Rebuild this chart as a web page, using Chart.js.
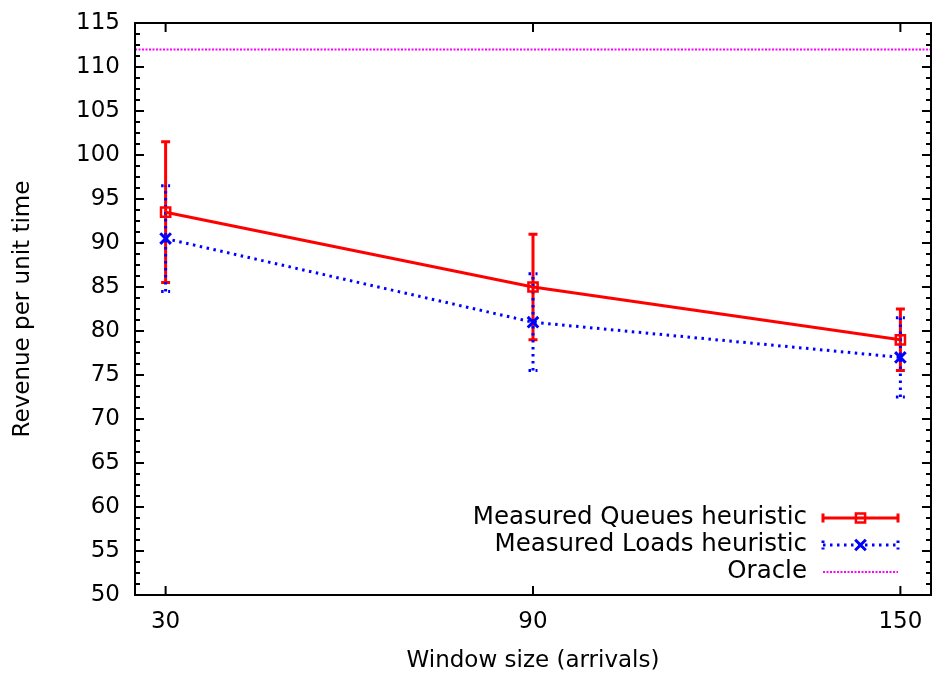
<!DOCTYPE html>
<html>
<head>
<meta charset="utf-8">
<script src="https://cdn.jsdelivr.net/npm/chart.js@4/dist/chart.umd.min.js"></script>
<style>
    html, body { margin: 0; padding: 0; background: #ffffff; }
    #RevenueChart { display: block; }
</style>
</head>
<body>
<canvas id="RevenueChart" width="933" height="678"></canvas>
<script>
// values
var WindowSizes = [30, 90, 150];
var XTickValues = [30, 90, 150];
var QueuesMean = [93.5, 85, 79];
var QueuesLow = [85.5, 79, 75.5];
var QueuesHigh = [101.5, 91, 82.5];
var LoadsMean = [90.5, 81, 77];
var LoadsLow = [84.5, 75.5, 72.5];
var LoadsHigh = [96.5, 86.5, 81.5];
var OracleValue = 112;
var XRange = [25, 155];
var YRange = [50, 115];
var YStep = 5;
var SeriesLabels = ['Measured Queues heuristic', 'Measured Loads heuristic', 'Oracle'];

var FontFamily = '"DejaVu Sans", Arial, sans-serif';

function Points(xs, ys) {
    return xs.map(function (x, i) { return { x: x, y: ys[i] }; });
}

function NoPadding(scale) {
    scale.paddingLeft = 0;
    scale.paddingRight = 0;
    scale.paddingTop = 0;
    scale.paddingBottom = 0;
}

// error bars with small caps, drawn under the lines and markers
var ErrorBarPlugin = {
    id: 'errorBars',
    beforeDatasetsDraw: function (chart) {
        var ctx = chart.ctx, xs = chart.scales.x, ys = chart.scales.y;
        chart.data.datasets.forEach(function (ds) {
            if (!ds.errLow) return;
            ctx.save();
            ctx.strokeStyle = ds.borderColor;
            ctx.lineWidth = ds.borderWidth;
            ctx.setLineDash(ds.borderDash || []);
            ds.data.forEach(function (p, i) {
                var px = xs.getPixelForValue(p.x);
                var lo = ys.getPixelForValue(ds.errLow[i]);
                var hi = ys.getPixelForValue(ds.errHigh[i]);
                ctx.beginPath();
                ctx.moveTo(px, lo); ctx.lineTo(px, hi);
                ctx.moveTo(px - 4.5, lo); ctx.lineTo(px + 4.5, lo);
                ctx.moveTo(px - 4.5, hi); ctx.lineTo(px + 4.5, hi);
                ctx.stroke();
            });
            ctx.restore();
        });
    }
};

// gnuplot style box with inward ticks on all four sides
var FramePlugin = {
    id: 'frame',
    afterDatasetsDraw: function (chart) {
        var ctx = chart.ctx, a = chart.chartArea, xs = chart.scales.x, ys = chart.scales.y;
        ctx.save();
        ctx.strokeStyle = '#000000';
        ctx.lineWidth = 2;
        ctx.setLineDash([]);
        ctx.strokeRect(a.left, a.top, a.right - a.left, a.bottom - a.top);
        ctx.beginPath();
        for (var v = YRange[0]; v <= YRange[1] + 0.001; v += YStep / 4) {
            var py = ys.getPixelForValue(v);
            var major = Math.abs(v / YStep - Math.round(v / YStep)) < 0.01;
            var len = major ? 9 : 5;
            ctx.moveTo(a.left, py); ctx.lineTo(a.left + len, py);
            ctx.moveTo(a.right, py); ctx.lineTo(a.right - len, py);
        }
        XTickValues.forEach(function (v) {
            var px = xs.getPixelForValue(v);
            ctx.moveTo(px, a.bottom); ctx.lineTo(px, a.bottom - 9);
            ctx.moveTo(px, a.top); ctx.lineTo(px, a.top + 9);
        });
        ctx.stroke();
        ctx.restore();
    }
};

// key in the lower right corner: text right aligned, sample to the right
var KeyPlugin = {
    id: 'gnuKey',
    afterDraw: function (chart) {
        var ctx = chart.ctx;
        var textRight = 807, lineLeft = 823, lineRight = 898, rowTop = 518, rowGap = 27;
        ctx.save();
        ctx.font = '24.5px ' + FontFamily;
        ctx.textAlign = 'right';
        ctx.textBaseline = 'middle';
        chart.data.datasets.forEach(function (ds, i) {
            var y = rowTop + i * rowGap;
            ctx.fillStyle = '#000000';
            ctx.fillText(ds.label, textRight, y);
            ctx.strokeStyle = ds.borderColor;
            ctx.lineWidth = ds.borderWidth;
            ctx.setLineDash(ds.borderDash || []);
            ctx.beginPath();
            ctx.moveTo(lineLeft, y); ctx.lineTo(lineRight, y);
            if (ds.errLow) {
                ctx.moveTo(lineLeft, y - 4.5); ctx.lineTo(lineLeft, y + 4.5);
                ctx.moveTo(lineRight, y - 4.5); ctx.lineTo(lineRight, y + 4.5);
            }
            ctx.stroke();
            if (ds.pointRadius > 0) {
                ctx.setLineDash([]);
                ctx.fillStyle = 'rgba(0,0,0,0)';
                ctx.lineWidth = ds.pointBorderWidth;
                Chart.helpers.drawPoint(ctx, {
                    pointStyle: ds.pointStyle,
                    radius: ds.pointRadius,
                    borderWidth: ds.pointBorderWidth,
                    rotation: 0
                }, (lineLeft + lineRight) / 2, y);
            }
        });
        ctx.restore();
    }
};

Chart.defaults.font.family = FontFamily;
Chart.defaults.font.size = 23;
Chart.defaults.color = '#000000';

var ctx = document.getElementById('RevenueChart').getContext('2d');
window.RevenueChart = new Chart(ctx, {
    type: 'line',
    data: {
        datasets: [{
            label: SeriesLabels[0],
            data: Points(WindowSizes, QueuesMean),
            errLow: QueuesLow,
            errHigh: QueuesHigh,
            borderColor: '#ff0000',
            borderWidth: 3,
            pointStyle: 'rect',
            pointRadius: 6.5,
            pointBorderWidth: 2.5,
            pointBorderColor: '#ff0000',
            pointBackgroundColor: 'rgba(0,0,0,0)',
            tension: 0
        }, {
            label: SeriesLabels[1],
            data: Points(WindowSizes, LoadsMean),
            errLow: LoadsLow,
            errHigh: LoadsHigh,
            borderColor: '#0000ff',
            borderWidth: 3,
            borderDash: [2.5, 4.5],
            pointStyle: 'crossRot',
            pointRadius: 7.5,
            pointBorderWidth: 3,
            pointBorderColor: '#0000ff',
            tension: 0
        }, {
            label: SeriesLabels[2],
            data: Points(XRange, [OracleValue, OracleValue]),
            borderColor: '#ff00ff',
            borderWidth: 2,
            borderDash: [2, 1.5],
            pointRadius: 0,
            tension: 0
        }]
    },
    options: {
        responsive: false,
        animation: false,
        devicePixelRatio: 1,
        layout: { autoPadding: false, padding: { top: 23, right: 2, left: 0, bottom: 0 } },
        plugins: {
            legend: { display: false },
            tooltip: { enabled: false }
        },
        scales: {
            x: {
                type: 'linear',
                min: XRange[0],
                max: XRange[1],
                afterBuildTicks: function (scale) {
                    scale.ticks = XTickValues.map(function (v) { return { value: v }; });
                },
                afterFit: function (scale) {
                    scale.height = 83;
                    NoPadding(scale);
                },
                grid: { display: false, drawTicks: false },
                border: { display: false },
                ticks: { padding: 13, maxRotation: 0 },
                title: {
                    display: true,
                    text: 'Window size (arrivals)',
                    padding: { top: 0, bottom: 3 }
                }
            },
            y: {
                type: 'linear',
                min: YRange[0],
                max: YRange[1],
                ticks: { stepSize: YStep, padding: 15 },
                afterFit: function (scale) {
                    scale.width = 135;
                    NoPadding(scale);
                },
                grid: { display: false, drawTicks: false },
                border: { display: false },
                title: {
                    display: true,
                    text: 'Revenue per unit time',
                    padding: { top: 9, bottom: 0 }
                }
            }
        }
    },
    plugins: [ErrorBarPlugin, FramePlugin, KeyPlugin]
});
</script>
</body>
</html>
